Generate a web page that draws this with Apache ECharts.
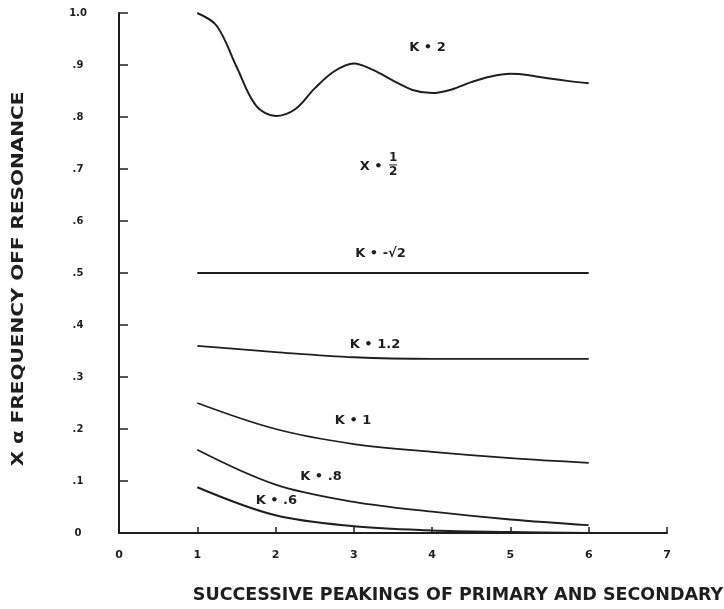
<!DOCTYPE html>
<html>
<head>
<meta charset="utf-8">
<script src="https://cdn.jsdelivr.net/npm/echarts@6/dist/echarts.min.js"></script>
<style>
  html, body { margin: 0; padding: 0; background: #fff; }
  #chart { width: 724px; height: 609px; }
</style>
</head>
<body>
<div id="chart"></div>
<script>
// successive peakings (x) and X values
var peakings = [1, 2, 3, 4, 5, 6];
var kTwoX = [1, 1.25, 1.5, 1.75, 2, 2.25, 2.5, 2.75, 3, 3.25, 3.5, 3.75, 4, 4.25, 4.5, 4.75, 5, 5.25, 5.5, 5.75, 6];
var kTwo = [1.0, 0.975, 0.897, 0.822, 0.802, 0.815, 0.855, 0.888, 0.903, 0.89, 0.87, 0.852, 0.846, 0.853, 0.867, 0.878, 0.883, 0.88, 0.874, 0.869, 0.865];
var kRootTwo = [0.5, 0.5, 0.5, 0.5, 0.5, 0.5];
var kOnePtTwo = [0.36, 0.348, 0.338, 0.335, 0.335, 0.335];
var kOne = [0.25, 0.2, 0.171, 0.156, 0.144, 0.135];
var kPtEight = [0.16, 0.093, 0.06, 0.041, 0.026, 0.015];
var kPtSix = [0.088, 0.034, 0.013, 0.005, 0.002, 0.0];

var yTicks = ['0', '.1', '.2', '.3', '.4', '.5', '.6', '.7', '.8', '.9', '1.0'];

// curve labels: text + where they sit (data coords)
var curveLabels = [
  { text: 'K • 2', at: [3.94, 0.933] },
  { text: 'K • -√2', at: [3.34, 0.537] },
  { text: 'K • 1.2', at: [3.27, 0.362] },
  { text: 'K • 1', at: [2.99, 0.217] },
  { text: 'K • .8', at: [2.58, 0.108] },
  { text: 'K • .6', at: [2.01, 0.062] }
];

function pairs(xs, ys) {
  return xs.map(function (x, i) { return [x, ys[i]]; });
}

var ink = '#1e1e1e';
var font = '"DejaVu Sans", sans-serif';

function curve(name, data, w) {
  return {
    name: name,
    type: 'line',
    data: data,
    smooth: 0.35,
    showSymbol: false,
    silent: true,
    lineStyle: { color: ink, width: w || 1.8 }
  };
}

var chart = echarts.init(document.getElementById('chart'));

var option = {
  animation: false,
  backgroundColor: '#fff',
  grid: { left: 119, right: 57, top: 13, bottom: 76, containLabel: false },
  xAxis: {
    type: 'value', min: 0, max: 7, interval: 1,
    axisLine: { lineStyle: { color: ink, width: 2 } },
    axisTick: { inside: true, length: 6, lineStyle: { color: ink, width: 1.5 } },
    splitLine: { show: false },
    axisLabel: { color: ink, fontFamily: font, fontWeight: 'bold', fontSize: 11, margin: 17 }
  },
  yAxis: {
    type: 'value', min: 0, max: 1, interval: 0.1,
    axisLine: { show: true, lineStyle: { color: ink, width: 2 } },
    axisTick: { show: true, inside: true, length: 9, lineStyle: { color: ink, width: 1.5 } },
    splitLine: { show: false },
    axisLabel: {
      color: ink, fontFamily: font, fontWeight: 'bold', fontSize: 10, margin: 41, align: 'center',
      formatter: function (v) { return yTicks[Math.round(v * 10)]; }
    }
  },
  series: [
    curve('K=2', pairs(kTwoX, kTwo), 2),
    curve('K=-√2', pairs(peakings, kRootTwo)),
    curve('K=1.2', pairs(peakings, kOnePtTwo)),
    curve('K=1', pairs(peakings, kOne)),
    curve('K=.8', pairs(peakings, kPtEight)),
    curve('K=.6', pairs(peakings, kPtSix), 2)
  ]
};
chart.setOption(option);

var textStyle = { fill: ink, fontFamily: font, fontWeight: 'bold' };
var graphics = [];

curveLabels.forEach(function (l) {
  var p = chart.convertToPixel({ gridIndex: 0 }, l.at);
  graphics.push({
    type: 'text', x: p[0], y: p[1], silent: true,
    style: Object.assign({ text: l.text, fontSize: 13, align: 'center', verticalAlign: 'middle' }, textStyle)
  });
});

// X = 1/2 annotation
var xh = chart.convertToPixel({ gridIndex: 0 }, [3.22, 0.704]);
graphics.push(
  { type: 'text', x: xh[0], y: xh[1], silent: true,
    style: Object.assign({ text: 'X •', fontSize: 13, align: 'center', verticalAlign: 'middle' }, textStyle) },
  { type: 'text', x: xh[0] + 22, y: xh[1] - 9, silent: true,
    style: Object.assign({ text: '1', fontSize: 12, align: 'center', verticalAlign: 'middle' }, textStyle) },
  { type: 'line', silent: true, shape: { x1: xh[0] + 18, y1: xh[1] - 2, x2: xh[0] + 26, y2: xh[1] - 2 },
    style: { stroke: ink, lineWidth: 1 } },
  { type: 'text', x: xh[0] + 22, y: xh[1] + 5, silent: true,
    style: Object.assign({ text: '2', fontSize: 12, align: 'center', verticalAlign: 'middle' }, textStyle) }
);

// axis titles
graphics.push(
  { type: 'text', x: 19, y: 279, rotation: Math.PI / 2, scaleX: 1.25, silent: true,
    style: Object.assign({ text: 'X α FREQUENCY OFF RESONANCE', fontSize: 16, align: 'center', verticalAlign: 'middle' }, textStyle) },
  { type: 'text', x: 458, y: 596, scaleX: 1.03, silent: true,
    style: Object.assign({ text: 'SUCCESSIVE PEAKINGS OF PRIMARY AND SECONDARY', fontSize: 17, align: 'center', verticalAlign: 'middle' }, textStyle) }
);

chart.setOption({ graphic: graphics });
</script>
</body>
</html>
